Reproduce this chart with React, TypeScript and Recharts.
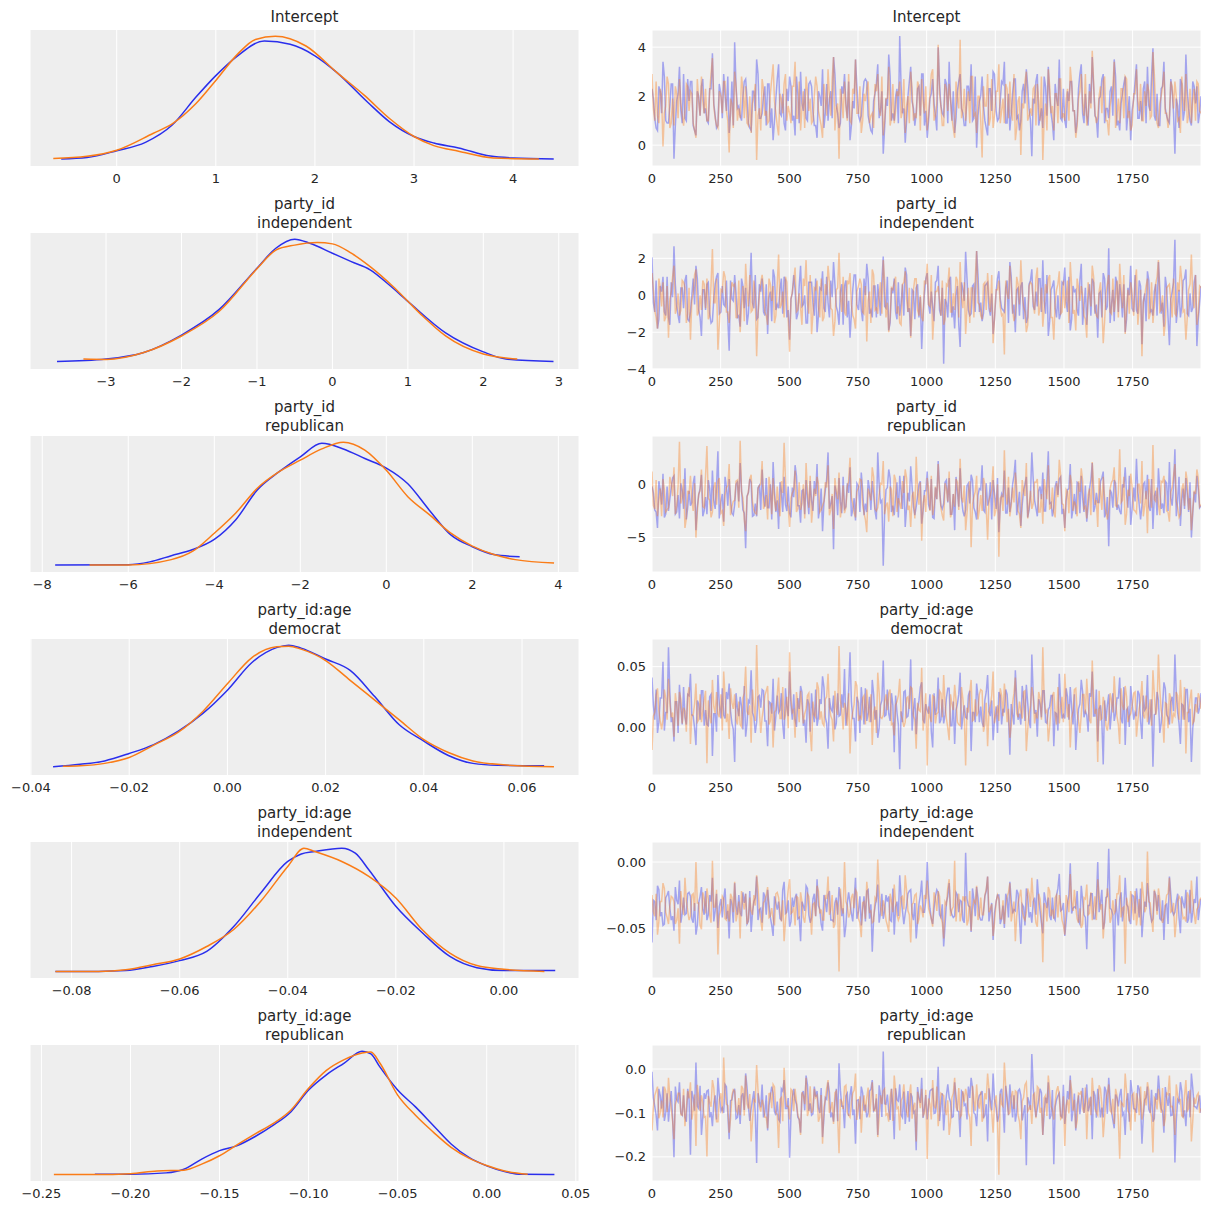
import { LineChart, Line, XAxis, YAxis, CartesianGrid } from 'recharts';

const BLUE = '#2a2eec';
const ORANGE = '#fa7c17';
const FONT = '"DejaVu Sans", sans-serif';
const TEXT = '#262626';

// ---- posterior densities, [value, density] per chain ----
const interceptKde0 = [[-0.56, 0.004], [-0.3, 0.01], [0, 0.039], [0.29, 0.075], [0.56, 0.149], [0.8, 0.269], [1.0, 0.361], [1.22, 0.446], [1.49, 0.509], [1.75, 0.495], [2.0, 0.446], [2.22, 0.375], [2.53, 0.248], [2.75, 0.164], [3.0, 0.1], [3.2, 0.072], [3.45, 0.051], [3.77, 0.016], [4.0, 0.008], [4.41, 0.004]];
const interceptKde1 = [[-0.64, 0.006], [-0.3, 0.015], [0, 0.041], [0.37, 0.114], [0.56, 0.154], [0.8, 0.241], [1.0, 0.34], [1.22, 0.453], [1.4, 0.516], [1.6, 0.53], [1.91, 0.488], [2.22, 0.375], [2.5, 0.276], [2.75, 0.178], [3.0, 0.1], [3.2, 0.061], [3.45, 0.037], [3.8, 0.008], [4.26, 0.004]];

const indepKde0 = [[-3.65, 0.004], [-3.0, 0.012], [-2.5, 0.033], [-2.0, 0.089], [-1.5, 0.171], [-1.0, 0.303], [-0.75, 0.367], [-0.5, 0.396], [-0.3, 0.383], [0, 0.351], [0.25, 0.324], [0.5, 0.298], [0.75, 0.25], [1.0, 0.197], [1.5, 0.096], [2.0, 0.035], [2.3, 0.012], [2.93, 0.004]];
const indepKde1 = [[-3.3, 0.012], [-3.0, 0.011], [-2.5, 0.033], [-2.0, 0.086], [-1.5, 0.165], [-1.0, 0.301], [-0.75, 0.361], [-0.5, 0.377], [-0.2, 0.385], [0, 0.381], [0.25, 0.351], [0.5, 0.308], [0.8, 0.245], [1.0, 0.197], [1.2, 0.149], [1.5, 0.086], [2.0, 0.028], [2.45, 0.012]];

const repubKde0 = [[-7.7, 0.0015], [-6.0, 0.002], [-5.5, 0.007], [-5.0, 0.018], [-4.5, 0.029], [-4.0, 0.047], [-3.5, 0.082], [-3.0, 0.135], [-2.5, 0.167], [-2.0, 0.194], [-1.5, 0.218], [-1.0, 0.208], [-0.5, 0.191], [0, 0.174], [0.5, 0.146], [1.0, 0.099], [1.5, 0.055], [2.0, 0.034], [2.5, 0.02], [3.1, 0.016]];
const repubKde1 = [[-6.9, 0.0015], [-6.0, 0.0015], [-5.0, 0.011], [-4.5, 0.026], [-4.0, 0.058], [-3.5, 0.094], [-3.0, 0.138], [-2.5, 0.167], [-2.0, 0.188], [-1.5, 0.208], [-1.0, 0.22], [-0.5, 0.206], [0, 0.17], [0.5, 0.123], [1.0, 0.091], [1.5, 0.058], [2.0, 0.035], [2.5, 0.02], [3.0, 0.011], [3.9, 0.005]];

const demAgeKde0 = [[-0.0355, 0.4], [-0.03, 0.9], [-0.025, 1.6], [-0.02, 3.1], [-0.015, 4.9], [-0.01, 7.6], [-0.005, 11.2], [0, 15.9], [0.005, 21.5], [0.01, 24.5], [0.0125, 25.0], [0.015, 24.4], [0.02, 22.2], [0.025, 19.9], [0.03, 14.6], [0.035, 8.9], [0.04, 5.6], [0.045, 2.7], [0.05, 1.1], [0.055, 0.7], [0.0645, 0.6]];
const demAgeKde1 = [[-0.0335, 0.5], [-0.03, 0.6], [-0.025, 1.1], [-0.02, 2.3], [-0.015, 4.8], [-0.01, 7.4], [-0.005, 11.6], [0, 17.2], [0.005, 22.5], [0.01, 24.7], [0.0125, 24.8], [0.015, 24.2], [0.02, 21.9], [0.025, 17.9], [0.03, 13.9], [0.035, 9.9], [0.04, 5.9], [0.045, 3.3], [0.05, 1.6], [0.055, 0.9], [0.0665, 0.4]];

const indAgeKde0 = [[-0.083, 0.1], [-0.075, 0.1], [-0.07, 0.3], [-0.065, 1.3], [-0.06, 2.7], [-0.055, 4.9], [-0.05, 10.9], [-0.045, 19.0], [-0.04, 26.6], [-0.0375, 28.4], [-0.035, 29.0], [-0.03, 29.8], [-0.0275, 28.6], [-0.025, 24.6], [-0.02, 15.8], [-0.015, 9.3], [-0.01, 3.7], [-0.005, 1.0], [0, 0.3], [0.0095, 0.3]];
const indAgeKde1 = [[-0.083, 0.1], [-0.075, 0.1], [-0.07, 0.5], [-0.065, 1.7], [-0.06, 3.1], [-0.055, 6.1], [-0.05, 10.2], [-0.045, 17.0], [-0.04, 25.4], [-0.037, 29.8], [-0.035, 29.0], [-0.03, 26.6], [-0.025, 23.0], [-0.02, 17.8], [-0.015, 10.0], [-0.01, 4.5], [-0.005, 1.5], [0, 0.6], [0.0075, 0.1]];

const repAgeKde0 = [[-0.22, 0.05], [-0.2, 0.05], [-0.18, 0.18], [-0.17, 0.52], [-0.16, 1.46], [-0.15, 2.24], [-0.14, 2.71], [-0.13, 3.55], [-0.12, 4.58], [-0.11, 5.83], [-0.1, 7.86], [-0.09, 9.27], [-0.08, 10.36], [-0.07, 11.46], [-0.065, 11.2], [-0.06, 10.0], [-0.05, 7.86], [-0.04, 6.3], [-0.03, 4.58], [-0.02, 2.86], [-0.01, 1.61], [0, 0.83], [0.01, 0.3], [0.02, 0.05], [0.038, 0.03]];
const repAgeKde1 = [[-0.243, 0.03], [-0.22, 0.02], [-0.2, 0.11], [-0.185, 0.36], [-0.17, 0.43], [-0.16, 0.99], [-0.15, 1.77], [-0.14, 2.8], [-0.13, 3.8], [-0.12, 4.74], [-0.11, 5.99], [-0.1, 8.02], [-0.09, 9.68], [-0.08, 10.68], [-0.07, 11.3], [-0.065, 11.39], [-0.06, 10.36], [-0.05, 7.39], [-0.04, 5.52], [-0.03, 3.96], [-0.02, 2.55], [-0.01, 1.55], [0, 0.86], [0.01, 0.36], [0.023, 0.05]];

// ---- sampled traces, thinned: the "A" draws and the "B" draws in between them ----
const interceptTrace0A = [
  2.3, 1.1, 0.6, 2.2, 3.4, 1.0, 0.9, 2.5, -0.55, 1.8, 3.2, 0.9, 1.1, 2.7, 2.6, 0.8, 0.4, 2.0, 2.4, 1.3,
  1.0, 2.3, 3.75, 1.2, 0.8, 2.1, 2.9, 1.4, 0.5, 2.6, 4.2, 1.5, 1.2, 2.0, 2.7, 0.9, 0.6, 2.2, 3.5, 1.1,
  1.3, 2.4, 2.5, 0.7, 0.2, 1.9, 3.3, 1.2, 0.9, 2.3, 2.8, 1.0, 0.4, 2.1, 3.0, 1.4, 1.1, 2.5, 2.4, 0.8,
  0.3, 2.0, 3.1, 1.3, 1.0, 2.2, 3.6, 1.6, 0.7, 2.4, 2.9, 1.1, 0.2, 1.8, 3.5, 1.2, 1.2, 2.6, 2.6, 0.9,
  0.5, 2.1, 3.3, 1.4, -0.35, 1.9, 3.7, 1.0, 1.0, 2.3, 4.45, 1.3, 0.1, 2.0, 3.2, 1.5, 1.3, 2.4, 2.9, 0.8,
  0.3, 1.9, 2.7, 1.2, 4.0, 1.6, 1.2, 2.5, 3.4, 1.0, 0.5, 2.2, 2.9, 1.3, 0.8, 2.4, 3.3, 1.1, -0.1, 1.8,
  2.8, 1.0, 0.4, 2.3, 3.0, 1.4, 1.1, 2.6, 3.4, 0.9, 0.6, 2.1, 2.7, 1.2, 1.0, 2.5, 3.1, 1.5, -0.45, 1.7,
  2.9, 1.1, 0.7, 2.4, 3.2, 1.3, 0.2, 1.9, 3.5, 1.0, 1.0, 2.2, 2.6, 1.4, 0.5, 2.3, 3.3, 0.9, 1.2, 2.5,
  3.6, 1.2, 0.3, 2.0, 2.9, 1.5, 1.1, 2.4, 3.5, 0.8, 0.6, 2.1, 2.8, 1.3, 0.2, 1.9, 3.3, 1.1, 1.0, 2.6,
  3.2, 1.4, 3.95, 1.0, 0.8, 2.3, 3.4, 1.2, 0.9, 2.2, -0.35, 1.6, 2.7, 1.0, 3.7, 1.5, 0.8, 2.4, 2.4, 1.3,
];
const interceptTrace0B = [
  1.9, 0.7, 2.4, 1.3, 2.8, 0.9, 1.6, 2.5, 0.8, 2.1, 1.4, 2.9, 1.0, 1.8, 2.6, 0.6, 2.2, 1.2, 2.7, 1.5,
  0.9, 2.3, 1.7, 0.7, 2.5, 1.1, 2.0, 2.8, 1.3, 0.8, 2.4, 1.6, 1.0, 2.6, 1.9, 0.7, 2.2, 1.4, 2.9, 1.1,
  2.0, 0.8, 2.5, 1.5, 1.0, 2.7, 1.3, 2.1, 0.6, 1.8, 2.4, 1.2, 2.8, 0.9, 1.7, 2.3, 1.0, 2.6, 1.4, 0.8,
  2.2, 1.6, 0.7, 2.5, 1.9, 1.1, 2.9, 1.3, 0.9, 2.1, 1.7, 2.6, 0.8, 1.5, 2.4, 1.0, 2.0, 2.7, 1.2, 0.6,
  1.8, 2.5, 1.1, 2.2, 0.7, 1.6, 2.8, 1.3, 2.0, 0.9, 2.4, 1.5, 1.0, 2.6, 1.8, 0.8, 2.3, 1.2, 2.9, 1.4,
  1.0, 2.1, 1.7, 0.6, 2.5, 1.3, 2.7, 0.9, 1.9, 2.2, 1.1, 2.6, 1.5, 0.8, 2.4, 1.8, 1.0, 2.8, 1.2, 2.0,
  1.6, 0.7, 2.3, 1.4, 2.9, 1.0, 1.8, 2.5, 0.9, 2.1, 1.3, 2.7, 1.1, 0.6, 2.2, 1.7, 2.4, 1.0, 1.9, 2.6,
  0.8, 1.5, 2.8, 1.2, 2.0, 0.9, 2.5, 1.6, 1.1, 2.3, 0.7, 1.8, 2.6, 1.4, 1.0, 2.9, 1.3, 2.1, 0.8, 1.7,
  2.4, 1.1, 1.9, 2.7, 0.9, 1.5, 2.2, 1.2, 2.8, 1.0, 1.7, 2.5, 0.6, 2.0, 1.4, 2.6, 1.1, 1.8, 2.3, 0.9,
  1.6, 2.8, 1.2, 2.1, 0.8, 2.4, 1.5, 1.0, 2.7, 1.3, 1.9, 0.7, 2.5, 1.4, 2.2, 1.0, 2.6, 1.7, 0.9, 2.0,
];
const interceptTrace1A = [
  2.9, 1.0, 1.2, 2.3, -0.05, 1.6, 2.5, 0.9, 0.8, 2.1, 2.7, 1.2, 1.4, 2.4, 2.2, 0.9, 0.3, 1.8, 2.8, 1.3,
  1.0, 2.2, 3.55, 1.1, 0.7, 2.0, 2.6, 1.4, -0.3, 1.7, 3.0, 1.0, 1.1, 2.3, 2.4, 0.8, 0.5, 2.0, -0.6, 1.5,
  2.7, 1.2, 0.9, 2.1, 3.3, 1.3, 0.4, 1.9, 2.5, 1.0, 1.3, 2.4, 3.4, 1.1, 0.6, 2.2, 2.8, 1.4, 0.9, 2.0,
  2.4, 1.1, 0.3, 1.8, 3.1, 1.2, 3.6, 1.5, -0.55, 1.9, 2.6, 1.0, 1.0, 2.3, 3.5, 1.3, 0.5, 2.1, 2.3, 0.9,
  1.3, 2.5, 2.9, 1.2, 0.4, 1.9, 3.2, 1.1, 0.9, 2.2, 2.6, 1.4, 0.5, 2.0, 3.0, 1.0, 1.1, 2.4, 2.7, 1.3,
  0.6, 2.1, 3.1, 1.2, 4.1, 1.6, 0.8, 2.3, 2.5, 1.1, 0.3, 1.9, 4.3, 1.4, 1.0, 2.2, 2.8, 1.2, 0.5, 2.0,
  -0.5, 1.6, 2.9, 1.1, 0.7, 2.2, 3.3, 1.4, 0.9, 2.3, 2.6, 1.0, 0.2, 1.8, -0.4, 1.5, 3.0, 1.2, 1.2, 2.4,
  2.5, 1.0, -0.6, 1.7, 3.1, 1.3, 0.6, 2.1, 2.7, 1.1, 1.0, 2.3, 3.2, 1.4, 0.3, 1.9, 2.9, 1.2, 0.8, 2.2,
  3.85, 1.3, 1.1, 2.4, 2.6, 1.0, 0.4, 2.0, 3.4, 1.2, 0.9, 2.3, 2.8, 1.1, 0.6, 2.1, 3.1, 1.4, 1.0, 2.2,
  2.5, 1.1, 3.8, 1.5, 0.7, 2.0, 3.0, 1.3, 1.2, 2.4, 2.6, 1.0, 0.5, 1.9, 2.9, 1.2, 0.9, 2.3, 2.6, 1.4,
];
const interceptTrace1B = [
  1.5, 2.6, 0.9, 2.0, 1.3, 2.8, 0.7, 1.9, 2.4, 1.1, 1.7, 0.8, 2.5, 1.4, 2.1, 0.6, 2.7, 1.2, 1.8, 2.3,
  1.0, 2.9, 1.6, 0.8, 2.2, 1.3, 2.6, 1.0, 1.9, 0.7, 2.4, 1.5, 2.8, 1.1, 0.9, 2.0, 1.7, 2.5, 1.2, 0.6,
  2.3, 1.4, 1.0, 2.7, 1.8, 0.8, 2.1, 1.3, 2.9, 1.6, 0.9, 2.4, 1.1, 2.6, 1.5, 0.7, 2.2, 1.9, 1.0, 2.8,
  1.4, 0.8, 2.5, 1.2, 2.0, 2.7, 0.6, 1.7, 2.3, 1.1, 1.6, 2.9, 0.9, 2.1, 1.3, 2.4, 1.0, 1.8, 2.6, 1.2,
  0.7, 2.2, 1.5, 2.8, 1.0, 1.9, 0.8, 2.5, 1.4, 2.0, 1.1, 2.7, 1.6, 0.9, 2.3, 1.3, 2.6, 0.6, 1.8, 2.4,
  1.2, 2.9, 1.0, 1.7, 2.1, 0.8, 2.5, 1.4, 1.9, 0.7, 2.6, 1.5, 1.1, 2.3, 1.8, 0.9, 2.8, 1.3, 2.0, 1.0,
  2.4, 1.6, 0.8, 2.7, 1.2, 2.2, 0.9, 1.9, 2.5, 1.1, 1.4, 2.9, 0.7, 2.0, 1.7, 2.6, 1.0, 1.5, 2.3, 0.8,
  1.8, 2.8, 1.1, 0.6, 2.4, 1.6, 2.1, 0.9, 2.7, 1.3, 1.9, 1.0, 2.5, 1.4, 0.8, 2.2, 1.7, 2.9, 1.2, 1.5,
  2.6, 0.9, 2.0, 1.3, 2.8, 1.0, 1.6, 2.4, 0.7, 1.9, 2.3, 1.1, 2.7, 1.4, 0.8, 2.1, 1.8, 2.5, 1.0, 1.6,
  2.2, 1.2, 2.9, 0.9, 1.7, 2.4, 1.3, 0.7, 2.6, 1.5, 2.0, 1.1, 2.8, 1.4, 0.9, 2.3, 1.8, 1.0, 2.5, 1.3,
];

const indepTrace0A = [
  2.05, -0.9, -1.8, 0.5, 1.0, -1.1, -1.2, 0.7, 2.65, -0.6, -1.5, 0.4, 0.8, -1.3, -0.9, 0.9, 1.6, -0.8, -2.2, 0.3,
  0.6, -1.0, -1.4, 0.6, 1.2, -0.9, -0.5, 0.8, -3.0, -0.2, 1.1, -1.2, -1.7, 0.5, 0.4, -1.0, 2.3, -0.7, -1.3, 0.6,
  0.9, -1.1, -2.1, 0.2, 1.4, -0.8, -0.7, 0.9, 1.0, -1.2, -2.4, 0.1, 0.3, -1.0, 1.6, -0.5, -1.5, 0.7, 0.7, -1.1,
  -2.0, 0.4, 1.3, -0.9, -0.4, 0.8, 1.8, -0.6, -1.6, 0.6, 0.5, -1.2, -2.3, 0.3, 1.1, -0.8, -0.8, 0.9, 1.7, -1.0,
  -1.2, 0.5, 0.6, -1.1, 2.1, -0.7, -1.9, 0.4, 0.9, -1.3, -1.1, 0.6, 1.5, -0.9, -2.2, 0.2, 0.4, -1.2, -2.9, 0.1,
  1.2, -1.0, -0.6, 0.7, 1.6, -1.1, -3.7, -0.4, 0.8, -1.2, -1.8, 0.5, -2.8, 0.3, 2.35, -0.8, -1.0, 0.6, 2.4, -0.9,
  -1.4, 0.5, 0.7, -1.1, -2.1, 0.2, 1.3, -0.7, -0.9, 0.8, 1.8, -1.0, -2.0, 0.4, 0.5, -1.3, -1.5, 0.6, 1.4, -0.8,
  -0.6, 0.9, 1.9, -1.0, -2.2, 0.3, 0.8, -1.2, -1.3, 0.7, 1.5, -0.9, -1.9, 0.5, 0.3, -1.1, 1.7, -0.6, -1.6, 0.6,
  0.9, -1.0, -2.3, 0.2, 1.2, -0.8, 2.55, -0.5, -1.4, 0.7, 0.6, -1.2, -2.0, 0.4, 1.6, -0.9, -0.8, 0.8, -2.65, 0.1,
  1.3, -0.9, -1.1, 0.6, 1.8, -1.0, -1.7, 0.4, -2.7, 0.2, 3.0, -0.7, -1.2, 0.8, 1.4, -1.1, -0.9, 0.7, -2.75, -0.4,
];
const indepTrace0B = [
  -0.4, 0.8, -1.3, 0.2, -0.9, 1.0, -1.6, -0.1, 0.6, -1.1, 0.4, -0.7, 1.1, -1.4, 0.0, -0.5, 0.9, -1.2, 0.3, -0.8,
  0.7, -1.5, -0.2, 1.0, -1.0, 0.5, -0.6, -1.3, 0.8, -0.3, 0.1, -1.1, 0.9, -0.7, -1.6, 0.4, -0.4, 1.1, -1.2, 0.2,
  -0.9, 0.6, -0.1, -1.4, 1.0, -0.5, 0.3, -1.0, 0.8, -0.8, -0.2, 1.1, -1.3, 0.5, -0.6, 0.0, -1.5, 0.7, -0.4, 0.9,
  -1.1, 0.3, -0.7, 1.0, -1.2, -0.1, 0.6, -0.9, 0.2, -1.6, 0.8, -0.3, -1.0, 1.1, -0.5, 0.4, -1.4, 0.0, 0.9, -0.8,
  0.5, -1.2, -0.2, 0.8, -0.6, 1.0, -1.5, 0.1, -0.9, 0.7, -0.4, -1.1, 1.1, -0.7, 0.3, -1.3, 0.6, -0.1, -1.0, 0.9,
  -0.5, 0.2, -1.4, 0.8, -0.8, 0.4, -0.2, -1.2, 1.0, -0.6, 0.0, -1.6, 0.7, -0.3, 0.9, -1.1, 0.5, -0.9, 1.1, -0.4,
  -1.0, 0.6, -0.7, 0.1, -1.3, 0.9, -0.2, -0.8, 0.4, -1.5, 1.0, -0.5, 0.3, -1.1, 0.7, -0.1, -1.2, 0.8, -0.6, 0.2,
  0.9, -0.9, -0.3, 1.1, -1.4, 0.5, -0.7, 0.0, -1.0, 0.6, -0.4, 1.0, -1.3, 0.2, -0.8, 0.8, -1.6, 0.4, -0.2, -1.1,
  0.7, -0.5, 0.1, -1.2, 0.9, -0.6, -1.5, 0.3, 1.0, -0.9, -0.1, 0.6, -1.3, 0.0, -0.7, 1.1, -1.0, 0.5, -0.3, -1.4,
  0.8, -0.8, 0.2, -1.1, 0.4, -0.4, 1.0, -1.2, -0.2, 0.7, -1.5, 0.3, -0.6, 0.9, -1.0, 0.1, -0.7, 1.1, -1.3, 0.5,
];
const indepTrace1A = [
  1.2, -0.8, -1.8, 0.4, 0.7, -1.2, -2.3, 0.2, 1.6, -0.7, -1.1, 0.8, 0.4, -1.0, -2.4, 0.1, 1.4, -0.9, -0.8, 0.6,
  0.9, -1.1, 2.5, -0.4, -2.95, 0.3, 1.3, -0.9, -1.5, 0.7, 0.6, -1.2, -2.0, 0.5, 1.7, -0.6, -0.9, 0.8, -3.3, 0.0,
  1.1, -0.9, -1.6, 0.6, 0.5, -1.1, 2.2, -0.5, -1.2, 0.7, -3.05, 0.2, 1.5, -0.8, -0.7, 0.9, 1.9, -1.0, -2.1, 0.4,
  0.8, -1.2, -1.4, 0.6, 1.6, -0.7, -2.2, 0.3, 2.3, -0.9, -0.9, 0.8, 1.2, -1.1, -1.8, 0.5, 0.6, -1.0, -2.5, 0.2,
  1.4, -0.8, -1.0, 0.7, 1.9, -1.2, -2.0, 0.4, 0.7, -1.0, -1.5, 0.6, 1.3, -0.9, -2.3, 0.3, 0.9, -1.1, -1.2, 0.8,
  1.7, -0.6, -2.4, 0.2, 0.5, -1.1, -1.6, 0.6, 1.5, -0.9, -0.8, 0.8, 1.8, -0.7, -2.1, 0.4, 0.4, -1.2, 2.4, -0.5,
  -1.3, 0.7, 1.2, -0.9, -2.6, 0.3, 0.8, -1.1, -3.2, 0.1, 1.6, -0.8, -1.1, 0.6, 1.9, -0.6, -2.0, 0.5, 0.6, -1.0,
  1.5, -0.7, -1.7, 0.6, 0.9, -1.2, -2.4, 0.3, 1.3, -0.9, -0.7, 0.8, 1.8, -1.0, -1.9, 0.4, 0.5, -1.1, -2.3, 0.2,
  1.6, -0.8, -1.2, 0.7, -2.6, 0.1, 1.1, -1.0, -0.9, 0.8, 1.7, -0.7, -2.1, 0.3, 0.7, -1.1, 1.4, -0.6, -3.3, 0.0,
  0.9, -1.0, -1.5, 0.6, 1.9, -0.8, -2.2, 0.4, 0.6, -1.2, -1.0, 0.7, 1.6, -0.9, -2.4, 0.3, 2.2, -0.7, -1.6, 0.5,
];
const indepTrace1B = [
  0.3, -1.2, 0.9, -0.6, -1.4, 0.5, -0.2, 1.0, -1.0, 0.1, -0.8, 0.7, -1.5, 0.4, -0.3, 1.1, -1.1, 0.0, 0.8, -0.7,
  -1.3, 0.6, -0.4, 0.9, -1.6, 0.2, 1.0, -0.9, -0.1, 0.5, -1.2, 0.8, -0.5, -1.4, 0.3, 1.1, -0.8, 0.0, -1.0, 0.7,
  0.4, -1.1, 0.9, -0.3, -1.5, 0.6, -0.7, 0.2, 1.0, -1.3, -0.2, 0.8, -0.9, 0.1, -1.6, 0.5, -0.4, 1.1, -1.0, 0.3,
  -0.6, 0.9, -1.2, 0.0, 0.7, -0.8, -1.4, 0.4, -0.1, 1.0, -1.1, 0.6, -0.5, -1.3, 0.2, 0.9, -0.9, 0.5, -0.3, -1.5,
  1.1, -0.7, 0.1, -1.0, 0.8, -0.4, -1.2, 0.3, 1.0, -0.6, -1.6, 0.7, -0.2, 0.4, -1.1, 0.9, -0.8, 0.0, -1.4, 0.6,
  -0.5, 1.1, -1.0, 0.2, -0.3, 0.8, -1.3, 0.5, -0.9, 0.1, 1.0, -1.2, -0.1, 0.7, -0.7, -1.5, 0.4, 0.9, -0.4, -1.1,
  0.6, -0.8, 0.0, 1.1, -1.3, 0.3, -0.6, -1.0, 0.8, -0.2, 0.5, -1.4, 1.0, -0.5, 0.2, -0.9, -1.6, 0.7, -0.3, 0.9,
  -1.1, 0.4, -0.7, 0.1, 1.1, -1.2, -0.4, 0.6, -1.0, 0.8, -0.1, -1.5, 0.5, -0.8, 0.9, -0.3, 0.0, -1.3, 0.7, -0.6,
  1.0, -1.1, 0.2, -0.5, -1.4, 0.6, -0.9, 0.9, -0.2, -1.2, 0.4, 1.1, -0.7, -1.0, 0.1, 0.8, -1.6, 0.3, -0.4, 0.5,
  -1.3, 0.7, -0.6, 1.0, -0.9, 0.0, -1.5, 0.5, -0.3, 0.9, -1.1, 0.2, 0.8, -0.8, -1.2, 0.6, -0.1, 1.1, -1.0, 0.4,
];

const repubTrace0A = [
  -0.2, -2.4, -4.1, -0.5, 1.0, -2.8, -2.5, -0.3, 0.8, -2.6, -3.2, -0.6, 1.5, -2.2, -2.0, 0.1, -4.3, -1.0, 0.9, -2.5,
  -2.8, -0.4, 1.3, -2.3, 3.1, -1.6, -3.5, -0.2, 0.5, -2.7, -1.9, 0.2, 2.0, -2.4, -6.0, -0.8, 0.2, -2.9, -3.0, -0.1,
  1.4, -2.1, -2.2, 0.0, 2.1, -2.6, -4.2, -0.7, 0.7, -2.5, -2.7, -0.3, 1.8, -2.0, -3.6, -0.5, 0.4, -2.8, -1.5, 0.3,
  1.9, -2.2, -4.4, -0.6, 3.0, -1.8, -6.1, -0.9, 0.6, -2.7, -2.3, 0.1, 1.6, -2.4, -3.4, -0.2, 1.1, -2.9, -2.6, -0.4,
  0.3, -2.5, 3.0, -1.7, -7.65, -0.5, 1.4, -2.6, -2.9, 0.2, 0.8, -2.3, -4.0, -0.8, 1.7, -2.1, -2.1, 0.0, -3.7, -0.6,
  1.2, -2.4, -3.1, -0.3, 2.2, -2.0, -1.8, 0.4, 0.6, -2.8, -4.3, -0.7, 1.5, -2.5, -2.4, 0.1, 0.9, -2.2, -3.3, -0.4,
  1.8, -2.6, -2.0, 0.2, 0.4, -2.3, -4.5, -0.9, 1.3, -2.7, -2.6, 0.0, 2.3, -1.9, -3.9, -0.6, 0.7, -2.4, 3.0, -1.5,
  -3.0, -0.2, 1.1, -2.5, 3.1, -1.7, -2.2, 0.3, 0.5, -2.8, -4.1, -0.5, 1.9, -2.3, -2.8, 0.1, 0.8, -2.6, -3.5, -0.4,
  2.0, -2.1, -1.7, 0.3, 1.2, -2.7, -5.8, -0.8, 0.4, -2.4, -2.5, 0.0, 1.6, -2.2, -3.8, -0.3, 2.4, -1.9, -2.0, 0.2,
  0.9, -2.5, -4.2, -0.6, 1.5, -2.3, -2.7, 0.1, 2.1, -2.0, 3.3, -1.4, -3.9, -0.4, 0.6, -2.6, -5.0, -0.7, 0.8, -2.2,
];
const repubTrace0B = [
  -0.8, -2.6, 0.3, -1.9, -3.1, -0.2, -1.4, 0.6, -2.8, -1.0, 0.1, -2.3, -3.3, -0.6, -1.7, 0.8, -2.1, -0.4, -3.0, -1.2,
  0.4, -2.5, -1.5, -0.1, -3.2, -0.9, 0.7, -2.0, -1.3, -2.9, 0.0, -1.6, -0.5, -2.7, -1.1, 0.5, -3.0, -1.8, -0.3, -2.4,
  -1.0, 0.6, -2.2, -3.3, -0.7, -1.5, 0.2, -2.6, -1.9, -0.2, -3.1, -1.2, 0.8, -2.0, -0.6, -2.8, -1.4, 0.3, -2.5, -0.9,
  -3.2, -0.4, -1.7, 0.5, -2.3, -1.1, -0.1, -2.9, -1.6, 0.7, -2.1, -0.8, -3.0, -1.3, 0.1, -2.6, -0.5, -1.8, 0.4, -2.4,
  -1.0, -3.3, 0.0, -1.5, -2.7, -0.3, 0.6, -2.0, -1.2, -3.1, -0.7, 0.8, -2.2, -1.6, -0.2, -2.9, -1.1, 0.3, -2.5, -0.6,
  -1.9, 0.5, -3.2, -1.4, -0.4, -2.3, 0.2, -1.7, -2.8, -0.9, 0.7, -2.1, -1.3, -3.0, -0.1, -1.8, 0.4, -2.6, -1.0, -0.5,
  -2.4, 0.1, -1.5, -3.3, -0.8, 0.6, -2.0, -1.2, -2.7, -0.3, -1.6, 0.8, -2.9, -0.7, -1.9, 0.0, -3.1, -1.1, 0.5, -2.2,
  -0.6, -1.4, -2.5, 0.3, -1.8, -3.0, -0.2, -1.0, 0.7, -2.3, -1.5, -0.4, -3.2, -0.9, 0.2, -2.7, -1.3, -0.1, -2.0, 0.4,
  -2.6, -0.8, -1.7, 0.6, -3.1, -1.2, -0.5, -2.2, 0.1, -1.9, -2.8, -0.3, -1.0, 0.8, -2.4, -1.6, -0.7, -3.3, 0.0, -1.4,
  -2.1, 0.5, -1.1, -2.9, -0.6, -1.8, 0.3, -2.5, -1.3, -0.2, -3.0, 0.7, -1.5, -2.3, -0.9, 0.2, -2.7, -1.7, -0.4, -2.0,
];
const repubTrace1A = [
  1.2, -2.3, -3.0, -0.4, 0.5, -2.6, -2.2, 0.1, 1.6, -2.0, 4.0, -1.2, -4.1, -0.6, 0.8, -2.5, -5.0, -0.9, 1.4, -2.2,
  3.6, -1.5, -2.6, 0.2, 0.3, -2.7, -3.9, -0.3, 1.9, -2.1, -1.5, 0.4, 4.1, -1.3, -4.4, -0.7, 0.9, -2.4, -2.8, -0.1,
  2.2, -2.0, -3.3, -0.5, 0.6, -2.5, -1.9, 0.3, 3.9, -1.6, -4.0, -0.8, 1.3, -2.3, -2.4, 0.0, 2.0, -2.2, -3.6, -0.4,
  0.7, -2.6, -2.0, 0.2, 1.8, -2.4, -4.2, -0.6, 1.1, -2.1, -2.7, -0.2, 2.5, -1.8, -3.1, -0.3, 0.4, -2.7, -4.5, -0.9,
  1.6, -2.3, -2.2, 0.1, 2.2, -2.0, -3.5, -0.5, 0.9, -2.6, -1.8, 0.3, 1.4, -2.4, -4.0, -0.7, 2.6, -1.9, -5.3, -1.0,
  0.6, -2.5, -2.9, -0.2, 1.9, -2.2, -3.4, -0.4, 1.2, -2.6, -2.1, 0.2, 2.4, -1.7, -4.3, -0.8, -5.9, -1.2, 0.8, -2.4,
  -2.5, 0.0, -5.2, -1.0, 1.7, -2.3, -6.8, -1.1, 3.2, -1.9, -3.0, -0.3, 1.1, -2.5, -4.1, -0.6, 2.0, -2.0, -2.3, 0.2,
  0.5, -2.6, -3.7, -0.5, 1.8, -2.2, -2.6, 0.1, 2.3, -1.8, -4.4, -0.7, 0.9, -2.5, -2.0, 0.3, 1.5, -2.3, -3.2, -0.4,
  2.1, -1.9, -4.0, -0.6, 0.7, -2.6, -2.4, 0.2, 1.6, -2.1, 3.3, -1.5, -3.8, -0.5, 1.0, -2.4, -2.7, 0.0, 2.2, -2.0,
  -4.6, -0.8, 3.7, -1.6, -1.9, 0.3, 0.8, -2.5, -3.5, -0.3, 1.9, -2.2, -2.8, 0.1, 1.2, -2.4, -4.3, -0.6, 1.4, -2.1,
];
const repubTrace1B = [
  -2.0, 0.4, -1.5, -3.0, -0.5, -2.4, 0.7, -1.1, -2.8, -0.2, -1.8, 0.5, -3.2, -0.9, -1.4, 0.1, -2.6, -0.6, -2.1, 0.8,
  -1.3, -3.1, -0.3, -1.9, 0.6, -2.5, -1.0, -0.1, -2.9, -1.6, 0.3, -2.2, -0.7, -3.3, -1.2, 0.5, -1.7, -2.7, -0.4, 0.0,
  -2.3, -1.0, 0.7, -2.8, -1.5, -0.2, -3.0, -0.8, 0.4, -2.1, -1.3, -0.5, -2.6, 0.2, -1.8, -3.2, -0.6, 0.8, -2.0, -1.1,
  0.1, -2.4, -1.6, -0.3, -2.9, -0.9, 0.6, -1.4, -3.1, -0.1, -2.2, 0.3, -1.2, -2.7, -0.7, 0.5, -1.9, -3.3, -0.4, -1.5,
  0.7, -2.5, -1.0, 0.0, -2.8, -1.7, -0.2, -3.0, 0.4, -1.3, -2.3, -0.8, 0.6, -2.0, -1.1, -3.2, -0.5, 0.2, -1.8, -2.6,
  -0.3, 0.8, -2.1, -1.4, -0.6, -2.9, 0.1, -1.6, -3.1, -0.9, 0.5, -2.4, -1.2, -0.1, -2.7, 0.3, -1.9, -0.7, -3.3, -1.0,
  0.6, -2.2, -1.5, -0.4, -3.0, 0.0, -1.3, -2.5, -0.8, 0.7, -2.0, -1.7, -0.2, -2.8, 0.4, -1.1, -3.2, -0.6, -1.8, 0.2,
  -2.6, -0.9, 0.5, -1.4, -2.3, -0.3, -3.1, -1.2, 0.8, -1.9, -0.5, -2.7, 0.1, -1.6, -3.0, -0.7, 0.3, -2.1, -1.0, -2.9,
  -0.1, -1.5, 0.6, -2.4, -1.3, -3.3, -0.4, 0.4, -2.0, -0.8, -1.7, 0.7, -2.8, -1.1, -0.2, -2.5, 0.0, -1.8, -3.0, -0.6,
  0.5, -2.2, -1.4, -0.3, -2.9, 0.2, -1.2, -2.6, -0.7, 0.8, -1.6, -3.1, -0.5, -2.0, 0.3, -1.3, -2.4, -0.9, 0.6, -1.9,
];

const demAgeTrace0A = [
  0.041, 0.006, -0.005, 0.024, 0.054, 0.012, 0.066, 0.004, -0.012, 0.021, 0.035, 0.002, 0.008, 0.027, 0.044, 0.009, -0.015, 0.019, 0.03, 0.001,
  0.002, 0.025, -0.024, 0.011, 0.043, 0.007, 0.01, 0.029, 0.036, 0.003, -0.029, 0.016, 0.025, -0.002, -0.008, 0.022, 0.047, 0.008, 0.004, 0.026,
  0.031, 0.005, -0.016, 0.02, 0.04, 0.009, 0.012, 0.028, -0.01, 0.017, 0.046, 0.006, 0.006, 0.024, 0.034, 0.001, -0.013, 0.019, 0.028, 0.004,
  0.001, 0.023, 0.042, 0.008, -0.018, 0.015, 0.026, 0.003, 0.009, 0.027, 0.048, 0.011, 0.062, 0.007, -0.012, 0.02, 0.033, 0.002, 0.005, 0.025,
  0.039, 0.006, -0.009, 0.018, 0.055, 0.01, 0.011, 0.028, -0.021, 0.012, -0.035, 0.004, 0.03, 0.009, 0.056, 0.014, -0.006, 0.022, 0.037, 0.003,
  0.014, 0.027, -0.017, 0.01, 0.041, 0.006, 0.003, 0.024, 0.032, 0.001, -0.014, 0.019, 0.045, 0.008, 0.008, 0.026, -0.02, 0.012, 0.036, 0.004,
  0.004, 0.022, 0.043, 0.009, -0.011, 0.017, 0.029, 0.002, 0.012, 0.027, -0.023, 0.01, 0.047, 0.006, 0.002, 0.023, 0.035, 0.005, 0.06, 0.011,
  -0.008, 0.019, 0.03, 0.004, 0.014, 0.026, -0.016, 0.011, 0.044, 0.007, 0.007, 0.025, 0.033, 0.002, -0.019, 0.015, 0.039, 0.008, 0.01, 0.028,
  0.046, 0.009, -0.012, 0.018, -0.031, 0.005, 0.027, 0.012, 0.005, 0.024, 0.041, 0.003, -0.015, 0.016, 0.034, 0.006, 0.009, 0.027, -0.01, 0.014,
  0.043, 0.008, -0.033, 0.011, 0.022, 0.003, 0.037, 0.01, 0.002, 0.025, 0.06, 0.012, -0.014, 0.018, 0.031, 0.004, -0.029, 0.009, 0.024, 0.016,
];
const demAgeTrace0B = [
  0.018, 0.031, 0.004, 0.024, -0.003, 0.012, 0.029, 0.008, 0.021, -0.005, 0.015, 0.033, 0.002, 0.026, 0.01, -0.001, 0.022, 0.006, 0.03, 0.014,
  0.001, 0.027, 0.011, -0.004, 0.019, 0.032, 0.007, 0.023, 0.013, -0.002, 0.028, 0.009, 0.017, 0.034, 0.003, 0.02, 0.012, -0.005, 0.025, 0.016,
  0.03, 0.005, 0.021, 0.011, -0.003, 0.026, 0.014, 0.002, 0.032, 0.009, 0.018, 0.027, 0.0, 0.015, 0.029, 0.006, 0.023, -0.004, 0.012, 0.031,
  0.008, 0.019, 0.033, 0.003, 0.024, 0.013, -0.002, 0.028, 0.01, 0.016, 0.001, 0.03, 0.021, 0.007, 0.025, -0.005, 0.017, 0.032, 0.011, 0.004,
  0.027, 0.014, -0.001, 0.022, 0.009, 0.031, 0.005, 0.018, 0.026, 0.002, 0.013, 0.029, 0.008, 0.02, -0.003, 0.024, 0.015, 0.033, 0.006, 0.019,
  0.011, -0.004, 0.028, 0.016, 0.003, 0.023, 0.01, 0.032, 0.001, 0.021, 0.014, 0.027, -0.002, 0.018, 0.007, 0.03, 0.012, 0.004, 0.025, 0.017,
  0.0, 0.029, 0.013, 0.022, 0.006, -0.005, 0.026, 0.015, 0.031, 0.009, 0.019, 0.002, 0.024, 0.011, 0.034, 0.005, 0.02, -0.001, 0.028, 0.014,
  0.023, 0.008, 0.03, 0.003, 0.017, 0.026, 0.012, -0.003, 0.021, 0.01, 0.032, 0.006, 0.016, 0.027, 0.001, 0.019, 0.029, 0.013, -0.004, 0.025,
  0.009, 0.031, 0.015, 0.004, 0.022, 0.018, -0.002, 0.028, 0.011, 0.024, 0.007, 0.033, 0.014, 0.0, 0.02, 0.012, 0.03, 0.005, 0.026, 0.016,
  0.002, 0.023, 0.01, 0.029, -0.005, 0.017, 0.032, 0.008, 0.021, 0.013, 0.027, 0.003, 0.019, 0.006, 0.031, 0.015, -0.001, 0.024, 0.011, 0.028,
];
const demAgeTrace1A = [
  -0.019, 0.012, 0.032, 0.005, 0.006, 0.024, 0.04, 0.008, -0.008, 0.018, 0.029, 0.003, 0.013, 0.026, -0.014, 0.01, 0.036, 0.006, 0.004, 0.022,
  -0.03, 0.009, 0.039, 0.011, 0.011, 0.027, 0.046, 0.004, -0.01, 0.02, 0.027, 0.002, 0.002, 0.024, 0.05, 0.01, -0.013, 0.017, 0.068, 0.013,
  0.008, 0.026, 0.034, 0.005, -0.017, 0.014, 0.041, 0.007, 0.006, 0.025, 0.062, 0.012, -0.009, 0.019, 0.03, 0.003, 0.015, 0.028, -0.02, 0.01,
  0.037, 0.006, 0.003, 0.023, 0.044, 0.009, -0.012, 0.016, 0.067, 0.014, 0.02, 0.001, -0.022, 0.012, 0.038, 0.005, 0.007, 0.026, 0.031, 0.004,
  -0.015, 0.017, 0.045, 0.008, 0.01, 0.027, 0.028, 0.002, -0.007, 0.021, 0.04, 0.006, 0.004, 0.025, 0.033, 0.009, -0.018, 0.014, 0.049, 0.011,
  -0.032, 0.008, 0.026, 0.003, 0.012, 0.028, 0.043, 0.007, -0.011, 0.019, 0.035, 0.004, 0.001, 0.023, -0.032, 0.012, 0.039, 0.006, 0.009, 0.027,
  0.03, 0.002, -0.016, 0.018, 0.046, 0.01, 0.005, 0.026, 0.036, 0.004, -0.009, 0.02, 0.041, 0.008, 0.014, 0.029, -0.02, 0.011, 0.033, 0.003,
  0.007, 0.024, 0.066, 0.012, -0.012, 0.017, 0.029, 0.002, 0.003, 0.025, 0.044, 0.008, -0.017, 0.013, 0.032, 0.005, 0.01, 0.027, 0.04, 0.006,
  0.055, 0.011, -0.029, 0.006, 0.025, 0.001, 0.006, 0.022, 0.042, 0.009, -0.014, 0.018, 0.034, 0.004, 0.011, 0.028, -0.008, 0.015, 0.038, 0.007,
  0.004, 0.023, 0.047, 0.01, 0.06, 0.014, -0.013, 0.019, 0.028, 0.003, 0.009, 0.026, 0.039, 0.006, -0.022, 0.012, 0.031, 0.005, 0.012, 0.024,
];
const demAgeTrace1B = [
  0.009, 0.026, 0.014, -0.002, 0.031, 0.006, 0.02, 0.012, 0.028, 0.001, 0.023, 0.016, -0.004, 0.033, 0.01, 0.019, 0.004, 0.027, 0.013, 0.03,
  0.022, 0.003, 0.017, 0.029, 0.008, -0.003, 0.025, 0.011, 0.032, 0.015, 0.006, 0.021, 0.0, 0.028, 0.013, 0.018, 0.031, 0.005, 0.024, -0.005,
  0.016, 0.03, 0.002, 0.02, 0.012, 0.027, 0.007, 0.033, 0.01, -0.001, 0.023, 0.014, 0.029, 0.004, 0.018, 0.011, 0.026, -0.004, 0.021, 0.008,
  0.032, 0.013, 0.001, 0.025, 0.017, 0.006, 0.03, 0.01, 0.022, -0.002, 0.015, 0.028, 0.005, 0.019, 0.034, 0.009, 0.024, 0.002, 0.016, 0.027,
  0.012, -0.005, 0.029, 0.007, 0.021, 0.014, 0.031, 0.003, 0.018, 0.026, 0.01, 0.0, 0.024, 0.015, 0.032, 0.006, 0.02, 0.013, -0.003, 0.028,
  0.017, 0.004, 0.025, 0.011, 0.03, 0.008, 0.019, -0.001, 0.027, 0.014, 0.022, 0.002, 0.033, 0.01, 0.016, 0.029, 0.005, 0.023, 0.012, 0.031,
  -0.004, 0.02, 0.013, 0.026, 0.003, 0.018, 0.032, 0.009, 0.024, 0.015, 0.001, 0.028, 0.011, 0.021, 0.007, 0.03, -0.002, 0.017, 0.025, 0.012,
  0.029, 0.006, 0.022, 0.014, 0.0, 0.026, 0.01, 0.033, 0.016, 0.004, 0.023, 0.019, 0.008, 0.031, 0.013, -0.005, 0.027, 0.011, 0.02, 0.003,
  0.024, 0.015, 0.03, 0.007, 0.018, -0.003, 0.028, 0.012, 0.021, 0.002, 0.032, 0.014, 0.025, 0.009, 0.017, 0.029, 0.005, 0.022, 0.01, 0.026,
  0.013, 0.001, 0.027, 0.016, 0.031, 0.008, 0.02, -0.001, 0.024, 0.011, 0.029, 0.006, 0.018, 0.033, 0.012, 0.023, 0.003, 0.019, 0.028, 0.015,
];

const indAgeTrace0A = [
  -0.061, -0.03, -0.018, -0.041, -0.048, -0.027, -0.022, -0.044, -0.052, -0.029, -0.014, -0.039, -0.04, -0.024, -0.026, -0.046, -0.055, -0.031, -0.019, -0.04,
  -0.044, -0.025, -0.012, -0.037, -0.05, -0.028, -0.028, -0.043, -0.058, -0.032, -0.016, -0.04, -0.038, -0.023, -0.024, -0.045, -0.053, -0.03, -0.011, -0.036,
  -0.046, -0.026, -0.021, -0.042, -0.056, -0.031, -0.03, -0.044, -0.015, -0.038, -0.049, -0.027, -0.027, -0.043, -0.06, -0.033, -0.018, -0.04, -0.042, -0.024,
  -0.013, -0.036, -0.052, -0.029, -0.025, -0.044, -0.045, -0.027, -0.019, -0.041, -0.057, -0.031, -0.031, -0.045, -0.012, -0.037, -0.048, -0.026, -0.022, -0.043,
  -0.068, -0.034, -0.017, -0.039, -0.043, -0.025, -0.026, -0.045, -0.055, -0.03, -0.01, -0.037, -0.039, -0.024, -0.021, -0.044, -0.058, -0.032, -0.014, -0.038,
  0.0, -0.035, -0.047, -0.026, -0.023, -0.042, -0.064, -0.031, -0.016, -0.04, -0.041, -0.025, -0.029, -0.044, 0.007, -0.033, -0.053, -0.028, -0.019, -0.041,
  -0.044, -0.026, -0.011, -0.038, -0.059, -0.03, -0.025, -0.043, -0.05, -0.028, -0.015, -0.039, -0.037, -0.024, -0.062, -0.034, -0.02, -0.042, -0.046, -0.027,
  -0.013, -0.037, -0.054, -0.029, -0.027, -0.044, -0.042, -0.025, -0.009, -0.036, -0.056, -0.031, -0.001, -0.035, -0.035, -0.045, -0.018, -0.04, -0.066, -0.033,
  -0.024, -0.043, 0.0, -0.031, -0.051, -0.027, 0.01, -0.036, -0.083, -0.038, -0.028, -0.045, -0.012, -0.034, -0.047, -0.026, -0.02, -0.042, -0.057, -0.03,
  -0.016, -0.039, -0.043, -0.025, -0.025, -0.044, -0.059, -0.032, -0.011, -0.037, -0.038, -0.024, -0.054, -0.031, -0.021, -0.043, -0.046, -0.028, -0.011, -0.035,
];
const indAgeTrace0B = [
  -0.029, -0.044, -0.021, -0.038, -0.047, -0.025, -0.035, -0.041, -0.019, -0.032, -0.046, -0.027, -0.039, -0.023, -0.043, -0.031, -0.048, -0.026, -0.036, -0.022,
  -0.04, -0.03, -0.045, -0.024, -0.034, -0.042, -0.02, -0.037, -0.028, -0.046, -0.033, -0.025, -0.041, -0.031, -0.047, -0.022, -0.038, -0.027, -0.044, -0.035,
  -0.023, -0.04, -0.032, -0.048, -0.026, -0.036, -0.043, -0.021, -0.039, -0.029, -0.045, -0.034, -0.024, -0.042, -0.03, -0.037, -0.02, -0.046, -0.028, -0.041,
  -0.033, -0.047, -0.025, -0.038, -0.022, -0.044, -0.031, -0.04, -0.027, -0.035, -0.048, -0.023, -0.039, -0.029, -0.043, -0.026, -0.036, -0.045, -0.021, -0.032,
  -0.042, -0.028, -0.046, -0.024, -0.037, -0.03, -0.044, -0.02, -0.034, -0.041, -0.027, -0.047, -0.033, -0.022, -0.039, -0.031, -0.045, -0.025, -0.038, -0.029,
  -0.024, -0.043, -0.035, -0.021, -0.04, -0.032, -0.048, -0.026, -0.036, -0.042, -0.023, -0.038, -0.03, -0.046, -0.028, -0.034, -0.02, -0.041, -0.027, -0.044,
  -0.037, -0.022, -0.045, -0.031, -0.039, -0.025, -0.047, -0.033, -0.024, -0.042, -0.029, -0.036, -0.021, -0.043, -0.032, -0.048, -0.026, -0.038, -0.03, -0.04,
  -0.028, -0.046, -0.023, -0.035, -0.041, -0.027, -0.044, -0.02, -0.037, -0.031, -0.045, -0.025, -0.039, -0.034, -0.022, -0.047, -0.029, -0.042, -0.033, -0.024,
  -0.043, -0.03, -0.038, -0.021, -0.046, -0.026, -0.035, -0.04, -0.028, -0.048, -0.023, -0.036, -0.032, -0.044, -0.025, -0.039, -0.031, -0.02, -0.041, -0.034,
  -0.027, -0.045, -0.022, -0.037, -0.043, -0.029, -0.033, -0.047, -0.024, -0.04, -0.03, -0.042, -0.026, -0.035, -0.046, -0.021, -0.038, -0.031, -0.044, -0.028,
];
const indAgeTrace1A = [
  -0.025, -0.041, -0.055, -0.03, -0.016, -0.038, -0.047, -0.026, -0.03, -0.044, -0.062, -0.033, -0.012, -0.037, -0.041, -0.024, 0.0, -0.031, -0.051, -0.028,
  -0.02, -0.04, 0.001, -0.034, -0.07, -0.036, -0.028, -0.044, -0.045, -0.027, -0.015, -0.039, -0.058, -0.031, -0.024, -0.043, -0.037, -0.025, -0.01, -0.036,
  -0.052, -0.029, -0.019, -0.041, -0.043, -0.024, -0.027, -0.045, -0.06, -0.032, -0.013, -0.038, -0.048, -0.027, -0.023, -0.042, -0.035, -0.026, -0.055, -0.031,
  -0.018, -0.039, -0.044, -0.025, -0.011, -0.036, -0.05, -0.029, -0.083, -0.035, 0.0, -0.033, -0.039, -0.024, -0.021, -0.043, -0.057, -0.03, -0.015, -0.038,
  -0.046, -0.027, 0.002, -0.034, -0.029, -0.044, -0.053, -0.03, -0.017, -0.04, -0.041, -0.026, -0.01, -0.037, -0.061, -0.031, -0.024, -0.043, -0.036, -0.025,
  -0.014, -0.039, -0.049, -0.027, -0.022, -0.042, -0.058, -0.032, -0.013, -0.036, 0.001, -0.03, -0.045, -0.026, -0.026, -0.044, -0.052, -0.029, -0.018, -0.04,
  -0.04, -0.025, -0.011, -0.035, -0.056, -0.03, -0.028, -0.043, -0.047, -0.026, -0.016, -0.038, -0.06, -0.031, -0.021, -0.042, -0.038, -0.024, -0.012, -0.036,
  -0.049, -0.028, -0.076, -0.034, -0.019, -0.041, -0.043, -0.025, -0.025, -0.044, -0.055, -0.03, -0.009, -0.037, -0.034, -0.046, -0.05, -0.027, -0.017, -0.039,
  -0.044, -0.026, -0.013, -0.036, -0.058, -0.031, -0.027, -0.042, -0.039, -0.024, -0.01, -0.035, -0.077, -0.033, -0.022, -0.044, -0.048, -0.028, -0.015, -0.038,
  0.008, -0.031, -0.053, -0.027, -0.02, -0.041, -0.042, -0.025, -0.012, -0.037, -0.057, -0.03, -0.028, -0.043, -0.045, -0.026, -0.014, -0.039, -0.036, -0.029,
];
const indAgeTrace1B = [
  -0.038, -0.024, -0.045, -0.03, -0.02, -0.042, -0.033, -0.027, -0.047, -0.035, -0.022, -0.04, -0.029, -0.044, -0.025, -0.037, -0.031, -0.048, -0.023, -0.039,
  -0.028, -0.046, -0.034, -0.021, -0.041, -0.026, -0.043, -0.032, -0.024, -0.038, -0.045, -0.03, -0.022, -0.036, -0.047, -0.027, -0.04, -0.033, -0.02, -0.044,
  -0.031, -0.025, -0.042, -0.035, -0.048, -0.023, -0.037, -0.029, -0.045, -0.021, -0.039, -0.034, -0.026, -0.043, -0.03, -0.046, -0.024, -0.038, -0.032, -0.041,
  -0.022, -0.036, -0.044, -0.028, -0.04, -0.025, -0.047, -0.033, -0.02, -0.039, -0.03, -0.042, -0.027, -0.035, -0.023, -0.046, -0.031, -0.043, -0.026, -0.037,
  -0.045, -0.029, -0.021, -0.041, -0.034, -0.048, -0.024, -0.038, -0.031, -0.044, -0.027, -0.036, -0.022, -0.04, -0.032, -0.025, -0.047, -0.033, -0.042, -0.028,
  -0.035, -0.043, -0.023, -0.037, -0.026, -0.046, -0.03, -0.02, -0.041, -0.034, -0.045, -0.024, -0.039, -0.029, -0.048, -0.022, -0.036, -0.031, -0.044, -0.027,
  -0.04, -0.021, -0.038, -0.032, -0.047, -0.025, -0.043, -0.029, -0.035, -0.023, -0.045, -0.03, -0.041, -0.026, -0.037, -0.044, -0.02, -0.034, -0.028, -0.046,
  -0.024, -0.039, -0.031, -0.045, -0.022, -0.036, -0.027, -0.042, -0.033, -0.048, -0.025, -0.038, -0.03, -0.021, -0.043, -0.035, -0.047, -0.028, -0.04, -0.023,
  -0.036, -0.044, -0.026, -0.032, -0.041, -0.02, -0.046, -0.029, -0.037, -0.024, -0.042, -0.034, -0.027, -0.045, -0.031, -0.022, -0.039, -0.048, -0.025, -0.035,
  -0.03, -0.043, -0.021, -0.04, -0.028, -0.046, -0.033, -0.024, -0.038, -0.031, -0.045, -0.026, -0.036, -0.042, -0.023, -0.039, -0.029, -0.047, -0.034, -0.027,
];

const repAgeTrace0A = [
  -0.006, -0.085, -0.14, -0.06, -0.04, -0.1, -0.12, -0.05, -0.201, -0.07, -0.03, -0.105, -0.11, -0.045, -0.195, -0.065, 0.015, -0.09, -0.15, -0.055,
  -0.05, -0.11, -0.13, -0.06, -0.02, -0.095, -0.1, -0.04, -0.16, -0.07, -0.045, -0.11, -0.125, -0.055, -0.01, -0.085, -0.09, -0.05, -0.214, -0.075,
  -0.035, -0.1, -0.14, -0.06, -0.055, -0.105, -0.115, -0.045, -0.025, -0.09, -0.202, -0.065, -0.07, -0.11, -0.145, -0.05, -0.015, -0.095, -0.105, -0.04,
  -0.05, -0.1, -0.155, -0.065, -0.03, -0.11, -0.12, -0.045, 0.013, -0.085, -0.135, -0.055, -0.06, -0.105, -0.17, -0.07, -0.04, -0.095, -0.11, -0.05,
  -0.025, -0.09, -0.15, -0.06, 0.04, -0.08, -0.095, -0.045, -0.16, -0.07, -0.035, -0.11, -0.125, -0.05, -0.055, -0.1, -0.185, -0.065, -0.02, -0.09,
  -0.115, -0.05, -0.045, -0.1, 0.005, -0.085, -0.14, -0.06, -0.065, -0.11, -0.03, -0.095, -0.155, -0.055, -0.08, -0.04, -0.02, -0.1, -0.13, -0.06,
  -0.05, -0.105, -0.165, -0.07, -0.01, -0.09, -0.105, -0.045, -0.145, -0.065, -0.035, -0.11, -0.12, -0.05, -0.06, -0.1, -0.219, -0.075, 0.034, -0.085,
  -0.09, -0.045, -0.15, -0.065, -0.03, -0.105, -0.217, -0.07, -0.055, -0.11, -0.125, -0.05, -0.015, -0.095, -0.14, -0.06, -0.07, -0.1, -0.035, -0.085,
  -0.16, -0.06, -0.045, -0.11, -0.11, -0.05, -0.02, -0.095, -0.135, -0.065, -0.06, -0.105, -0.15, -0.055, -0.025, -0.09, -0.1, -0.045, -0.17, -0.07,
  -0.04, -0.1, -0.12, -0.055, -0.015, -0.09, -0.145, -0.065, -0.055, -0.105, -0.213, -0.07, -0.03, -0.11, -0.13, -0.05, -0.01, -0.085, -0.09, -0.06,
];
const repAgeTrace0B = [
  -0.065, -0.105, -0.045, -0.09, -0.118, -0.055, -0.08, -0.11, -0.04, -0.075, -0.1, -0.06, -0.12, -0.07, -0.05, -0.095, -0.085, -0.038, -0.108, -0.068,
  -0.048, -0.098, -0.078, -0.115, -0.058, -0.088, -0.035, -0.103, -0.072, -0.052, -0.113, -0.082, -0.062, -0.093, -0.042, -0.118, -0.07, -0.1, -0.055, -0.087,
  -0.11, -0.06, -0.083, -0.04, -0.097, -0.074, -0.12, -0.05, -0.09, -0.066, -0.106, -0.045, -0.08, -0.115, -0.057, -0.094, -0.036, -0.078, -0.102, -0.063,
  -0.088, -0.043, -0.112, -0.069, -0.053, -0.099, -0.076, -0.119, -0.048, -0.085, -0.061, -0.107, -0.039, -0.092, -0.071, -0.114, -0.054, -0.081, -0.1, -0.046,
  -0.095, -0.067, -0.037, -0.109, -0.079, -0.058, -0.116, -0.086, -0.044, -0.073, -0.104, -0.051, -0.089, -0.12, -0.064, -0.096, -0.041, -0.077, -0.111, -0.059,
  -0.084, -0.047, -0.101, -0.07, -0.118, -0.055, -0.091, -0.035, -0.075, -0.108, -0.062, -0.097, -0.05, -0.083, -0.115, -0.066, -0.042, -0.103, -0.073, -0.057,
  -0.112, -0.08, -0.044, -0.094, -0.068, -0.12, -0.052, -0.087, -0.038, -0.105, -0.074, -0.06, -0.098, -0.046, -0.117, -0.082, -0.064, -0.093, -0.04, -0.109,
  -0.071, -0.054, -0.1, -0.078, -0.114, -0.048, -0.086, -0.061, -0.107, -0.036, -0.09, -0.069, -0.119, -0.056, -0.081, -0.103, -0.043, -0.076, -0.096, -0.063,
  -0.05, -0.111, -0.073, -0.088, -0.04, -0.102, -0.066, -0.116, -0.058, -0.085, -0.045, -0.099, -0.072, -0.12, -0.053, -0.091, -0.037, -0.079, -0.108, -0.065,
  -0.092, -0.047, -0.113, -0.07, -0.057, -0.097, -0.041, -0.084, -0.106, -0.062, -0.118, -0.076, -0.051, -0.094, -0.068, -0.11, -0.044, -0.086, -0.074, -0.1,
];
const repAgeTrace1A = [
  -0.14, -0.06, -0.04, -0.1, -0.11, -0.05, -0.02, -0.09, -0.16, -0.07, -0.055, -0.105, -0.13, -0.05, -0.03, -0.095, -0.175, -0.065, -0.06, -0.11,
  -0.199, -0.075, -0.025, -0.09, -0.12, -0.055, 0.026, -0.08, -0.145, -0.06, -0.05, -0.1, -0.105, -0.045, -0.015, -0.09, -0.165, -0.07, 0.009, -0.085,
  -0.07, -0.11, -0.135, -0.055, -0.035, -0.1, -0.18, -0.065, 0.003, -0.085, -0.115, -0.05, -0.045, -0.105, -0.15, -0.06, -0.02, -0.095, -0.1, -0.045,
  -0.06, -0.11, -0.17, -0.07, -0.025, -0.09, -0.125, -0.05, -0.192, -0.075, -0.04, -0.1, -0.11, -0.055, -0.01, -0.085, -0.145, -0.06, -0.065, -0.11,
  -0.03, -0.095, -0.155, -0.06, -0.05, -0.105, -0.12, -0.045, -0.015, -0.09, -0.14, -0.065, -0.075, -0.11, -0.035, -0.085, -0.165, -0.07, -0.045, -0.1,
  -0.205, -0.08, -0.025, -0.09, -0.13, -0.055, -0.06, -0.105, -0.15, -0.065, -0.02, -0.095, -0.11, -0.05, -0.045, -0.1, -0.175, -0.07, -0.035, -0.09,
  -0.12, -0.055, -0.01, -0.085, -0.145, -0.06, -0.241, -0.08, 0.015, -0.075, -0.1, -0.05, -0.05, -0.105, -0.16, -0.065, -0.03, -0.09, -0.125, -0.055,
  -0.04, -0.1, -0.15, -0.06, -0.015, -0.085, -0.115, -0.05, -0.065, -0.11, -0.175, -0.07, -0.025, -0.095, -0.135, -0.055, -0.05, -0.1, -0.16, -0.065,
  -0.02, -0.09, -0.105, -0.045, -0.155, -0.07, -0.035, -0.1, -0.125, -0.06, -0.204, -0.08, -0.01, -0.095, -0.14, -0.055, -0.055, -0.105, -0.115, -0.05,
  -0.03, -0.095, -0.19, -0.07, -0.045, -0.1, -0.13, -0.055, -0.015, -0.085, -0.15, -0.06, -0.07, -0.11, -0.025, -0.09, -0.165, -0.065, -0.06, -0.1,
];
const repAgeTrace1B = [
  -0.088, -0.05, -0.112, -0.072, -0.04, -0.098, -0.063, -0.118, -0.081, -0.055, -0.104, -0.045, -0.09, -0.067, -0.115, -0.058, -0.036, -0.095, -0.076, -0.108,
  -0.061, -0.086, -0.043, -0.12, -0.07, -0.101, -0.052, -0.083, -0.113, -0.047, -0.093, -0.066, -0.038, -0.106, -0.079, -0.057, -0.117, -0.074, -0.049, -0.097,
  -0.082, -0.11, -0.056, -0.089, -0.041, -0.103, -0.069, -0.119, -0.06, -0.085, -0.046, -0.096, -0.073, -0.114, -0.053, -0.08, -0.107, -0.039, -0.092, -0.065,
  -0.12, -0.059, -0.087, -0.044, -0.1, -0.075, -0.054, -0.111, -0.068, -0.091, -0.037, -0.105, -0.078, -0.048, -0.116, -0.062, -0.084, -0.099, -0.042, -0.071,
  -0.094, -0.057, -0.109, -0.08, -0.045, -0.102, -0.064, -0.118, -0.05, -0.087, -0.072, -0.035, -0.097, -0.06, -0.113, -0.077, -0.052, -0.089, -0.106, -0.047,
  -0.067, -0.115, -0.083, -0.04, -0.1, -0.058, -0.092, -0.071, -0.12, -0.055, -0.086, -0.043, -0.104, -0.074, -0.061, -0.11, -0.038, -0.095, -0.08, -0.051,
  -0.108, -0.069, -0.046, -0.098, -0.078, -0.117, -0.056, -0.085, -0.041, -0.103, -0.064, -0.091, -0.053, -0.119, -0.073, -0.036, -0.096, -0.082, -0.059, -0.112,
  -0.044, -0.088, -0.066, -0.107, -0.05, -0.093, -0.076, -0.039, -0.114, -0.062, -0.084, -0.101, -0.048, -0.07, -0.118, -0.057, -0.09, -0.042, -0.079, -0.105,
  -0.063, -0.099, -0.037, -0.081, -0.111, -0.054, -0.094, -0.068, -0.045, -0.116, -0.075, -0.087, -0.052, -0.102, -0.06, -0.12, -0.071, -0.04, -0.097, -0.083,
  -0.049, -0.109, -0.065, -0.092, -0.077, -0.043, -0.113, -0.058, -0.086, -0.101, -0.035, -0.073, -0.106, -0.061, -0.095, -0.047, -0.118, -0.079, -0.055, -0.09,
];

// ---- tick labels ----
const drawTicks = [0, 250, 500, 750, 1000, 1250, 1500, 1750];
const titles = [
  ['Intercept'],
  ['party_id', 'independent'],
  ['party_id', 'republican'],
  ['party_id:age', 'democrat'],
  ['party_id:age', 'independent'],
  ['party_id:age', 'republican'],
];
const kdeTicks = [
  [0, 1, 2, 3, 4],
  [-3, -2, -1, 0, 1, 2, 3],
  [-8, -6, -4, -2, 0, 2, 4],
  [-0.04, -0.02, 0, 0.02, 0.04, 0.06],
  [-0.08, -0.06, -0.04, -0.02, 0],
  [-0.25, -0.2, -0.15, -0.1, -0.05, 0, 0.05],
];
const traceTicks = [
  [0, 2, 4],
  [-4, -2, 0, 2],
  [-5, 0],
  [0, 0.05],
  [-0.05, 0],
  [-0.2, -0.1, 0],
];

// ---- layout ----
const rowTops = [30, 233, 436, 639, 842, 1045];
const kdeDomains = [[-0.875, 4.665], [-4.008, 3.268], [-8.285, 4.48], [-0.0402, 0.0716], [-0.0877, 0.0139], [-0.2564, 0.0518]];
const traceDomains = [[-0.85, 4.7], [-3.99, 3.37], [-8.23, 4.54], [-0.0398, 0.0729], [-0.0879, 0.0152], [-0.255, 0.0548]];
const kdeDigits = [0, 0, 0, 2, 2, 2];
const traceDigits = [0, 0, 0, 2, 2, 1];

const kdes = [
  [interceptKde0, interceptKde1],
  [indepKde0, indepKde1],
  [repubKde0, repubKde1],
  [demAgeKde0, demAgeKde1],
  [indAgeKde0, indAgeKde1],
  [repAgeKde0, repAgeKde1],
];
const traces = [
  [[interceptTrace0A, interceptTrace0B], [interceptTrace1A, interceptTrace1B]],
  [[indepTrace0A, indepTrace0B], [indepTrace1A, indepTrace1B]],
  [[repubTrace0A, repubTrace0B], [repubTrace1A, repubTrace1B]],
  [[demAgeTrace0A, demAgeTrace0B], [demAgeTrace1A, demAgeTrace1B]],
  [[indAgeTrace0A, indAgeTrace0B], [indAgeTrace1A, indAgeTrace1B]],
  [[repAgeTrace0A, repAgeTrace0B], [repAgeTrace1A, repAgeTrace1B]],
];

const PANEL_H = 136;
const AXIS_H = 30;

const fmt = (digits: number) => (v: number) => {
  const s = Math.abs(v).toFixed(digits);
  return v < -1e-12 ? '\u2212' + s : s;
};

const tickStyle = { fill: TEXT, fontSize: 13, fontFamily: FONT };

const toKde = (pairs: number[][]) => pairs.map(([x, y]) => ({ x, y }));
// A and B draws alternate along the chain
const toTrace = ([a, b]: number[][]) => {
  const vals = a.flatMap((v, i) => (i < b.length ? [v, b[i]] : [v]));
  return vals.map((v, i) => ({ draw: Math.round((i * 1999) / (vals.length - 1)), v }));
};

function Title({ lines, left, top }: { lines: string[]; left: number; top: number }) {
  return (
    <div
      style={{
        position: 'absolute',
        left,
        top,
        width: 549,
        textAlign: 'center',
        fontFamily: FONT,
        fontSize: 15,
        lineHeight: '19px',
        color: TEXT,
      }}
    >
      {lines.map((l) => (
        <div key={l}>{l}</div>
      ))}
    </div>
  );
}

function KdePanel({ row }: { row: number }) {
  const [c0, c1] = kdes[row];
  const peak = Math.max(...c0.map((p) => p[1]), ...c1.map((p) => p[1]));
  return (
    <LineChart
      width={600}
      height={PANEL_H + AXIS_H}
      margin={{ top: 0, right: 21, bottom: 0, left: 30 }}
    >
      <CartesianGrid fill="#eeeeee" stroke="#ffffff" strokeWidth={1} horizontal={false} />
      <XAxis
        type="number"
        dataKey="x"
        domain={kdeDomains[row]}
        ticks={kdeTicks[row]}
        allowDataOverflow
        interval={0}
        height={AXIS_H}
        tickLine={false}
        axisLine={false}
        tickSize={0}
        tickMargin={8}
        tick={tickStyle}
        tickFormatter={fmt(kdeDigits[row])}
      />
      <YAxis type="number" dataKey="y" hide domain={[-0.05 * peak, 1.05 * peak]} allowDataOverflow />
      <Line data={toKde(c0)} dataKey="y" type="monotone" stroke={BLUE} strokeWidth={1.5} dot={false} activeDot={false} isAnimationActive={false} />
      <Line data={toKde(c1)} dataKey="y" type="monotone" stroke={ORANGE} strokeWidth={1.5} dot={false} activeDot={false} isAnimationActive={false} />
    </LineChart>
  );
}

function TracePanel({ row }: { row: number }) {
  const [c0, c1] = traces[row];
  return (
    <LineChart
      width={611}
      height={PANEL_H + AXIS_H}
      margin={{ top: 0, right: 10, bottom: 0, left: 0 }}
    >
      <CartesianGrid fill="#eeeeee" stroke="#ffffff" strokeWidth={1} />
      <XAxis
        type="number"
        dataKey="draw"
        domain={[0, 1999]}
        ticks={drawTicks}
        allowDataOverflow
        interval={0}
        height={AXIS_H}
        tickLine={false}
        axisLine={false}
        tickSize={0}
        tickMargin={8}
        tick={tickStyle}
      />
      <YAxis
        type="number"
        dataKey="v"
        width={52}
        domain={traceDomains[row]}
        ticks={traceTicks[row]}
        allowDataOverflow
        interval={0}
        tickLine={false}
        axisLine={false}
        tickSize={0}
        tickMargin={6}
        tick={tickStyle}
        tickFormatter={fmt(traceDigits[row])}
      />
      <Line data={toTrace(c0)} dataKey="v" type="linear" stroke={BLUE} strokeOpacity={0.38} strokeWidth={1.5} dot={false} activeDot={false} isAnimationActive={false} />
      <Line data={toTrace(c1)} dataKey="v" type="linear" stroke={ORANGE} strokeOpacity={0.38} strokeWidth={1.5} dot={false} activeDot={false} isAnimationActive={false} />
    </LineChart>
  );
}

export default function App() {
  return (
    <div style={{ position: 'absolute', left: 0, top: 0, width: 1211, height: 1211, background: '#ffffff' }}>
      {rowTops.map((top, row) => {
        const lines = titles[row];
        const titleTop = top - 19 * lines.length - (lines.length === 1 ? 3 : 0);
        return (
          <div key={row}>
            <Title lines={lines} left={30} top={titleTop} />
            <Title lines={lines} left={652} top={titleTop} />
            <div style={{ position: 'absolute', left: 0, top }}>
              <KdePanel row={row} />
            </div>
            <div style={{ position: 'absolute', left: 600, top }}>
              <TracePanel row={row} />
            </div>
          </div>
        );
      })}
    </div>
  );
}
